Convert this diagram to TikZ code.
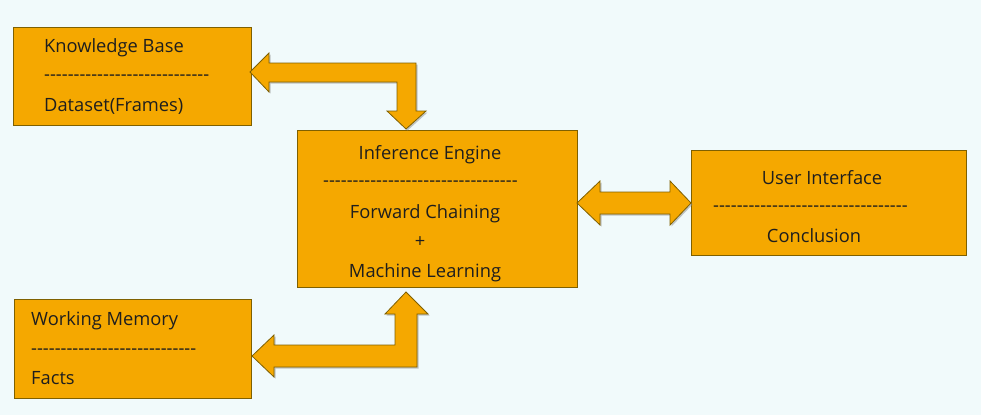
\documentclass[tikz,border=0pt]{standalone}
\usepackage{fontspec}
\setmainfont{Open Sans}[Ligatures=TeXOff]
\begin{document}
\begin{tikzpicture}[x=1pt,y=-1pt,
  blk/.style={draw=brdr,fill=orng,line width=1pt},
  txt/.style={inner sep=0pt,text=txtc,font=\fontsize{18.3}{22}\selectfont},
  arr/.style={draw=brdr,fill=orng,line width=0.8pt,line join=miter},
  shd/.style={fill=black!45,opacity=0.5}]
\definecolor{orng}{HTML}{F5A800}
\definecolor{brdr}{HTML}{7F6000}
\definecolor{txtc}{HTML}{1E1E1E}
\definecolor{bg}{HTML}{F1FAFB}
\useasboundingbox (0,0) rectangle (981,415);
\fill[bg] (0,0) rectangle (981,415);
% boxes
\draw[blk] (13,27) rectangle (251,125) node[pos=0.5,inner sep=0] (kb) {};
\draw[blk] (297,130) rectangle (577,287) node[pos=0.5,inner sep=0] (ie) {};
\draw[blk] (691,150) rectangle (966,255) node[pos=0.5,inner sep=0] (ui) {};
\draw[blk] (14,299) rectangle (251,398) node[pos=0.5,inner sep=0] (wm) {};
% arrows with shadow
\begin{scope}[shift={(1.5,1.5)}]
\fill[shd] (250,72) -- (269,53) -- (269,63) -- (416,63) -- (416,111) -- (426,111) -- (406,129) -- (387,111) -- (397,111) -- (397,82) -- (269,82) -- (269,92) -- cycle;
\fill[shd] (406,292) -- (428,314) -- (417,314) -- (417,367) -- (274,367) -- (274,377) -- (252,356) -- (274,335) -- (274,345) -- (395,345) -- (395,314) -- (385,314) -- cycle;
\fill[shd] (577,203) -- (600,181) -- (600,192) -- (670,192) -- (670,181) -- (691,203) -- (670,225) -- (670,214) -- (600,214) -- (600,225) -- cycle;
\end{scope}
\draw[arr] (250,72) -- (269,53) -- (269,63) -- (416,63) -- (416,111) -- (426,111) -- (406,129) -- (387,111) -- (397,111) -- (397,82) -- (269,82) -- (269,92) -- cycle;
\draw[arr] (406,292) -- (428,314) -- (417,314) -- (417,367) -- (274,367) -- (274,377) -- (252,356) -- (274,335) -- (274,345) -- (395,345) -- (395,314) -- (385,314) -- cycle;
\draw[arr] (577,203) -- (600,181) -- (600,192) -- (670,192) -- (670,181) -- (691,203) -- (670,225) -- (670,214) -- (600,214) -- (600,225) -- cycle;
% texts
\node[txt,anchor=base west] (kb1) at (44,52) {Knowledge Base};
\node[txt,anchor=base west] (kb2) at (44,80) {----------------------------};
\node[txt,anchor=base west] (kb3) at (44,111) {Dataset(Frames)};
\node[txt,anchor=base] (ie1) at (430,159) {Inference Engine};
\node[txt,anchor=base west] (ie2) at (323,186) {---------------------------------};
\node[txt,anchor=base] (ie3) at (425,218) {Forward Chaining};
\node[txt,anchor=base] (ie4) at (420,247) {+};
\node[txt,anchor=base] (ie5) at (425,277) {Machine Learning};
\node[txt,anchor=base] (ui1) at (822,184) {User Interface};
\node[txt,anchor=base west] (ui2) at (713,211) {---------------------------------};
\node[txt,anchor=base] (ui3) at (814,242) {Conclusion};
\node[txt,anchor=base west] (wm1) at (31,325) {Working Memory};
\node[txt,anchor=base west] (wm2) at (31,354) {----------------------------};
\node[txt,anchor=base west] (wm3) at (31,384) {Facts};
\end{tikzpicture}
\end{document}
